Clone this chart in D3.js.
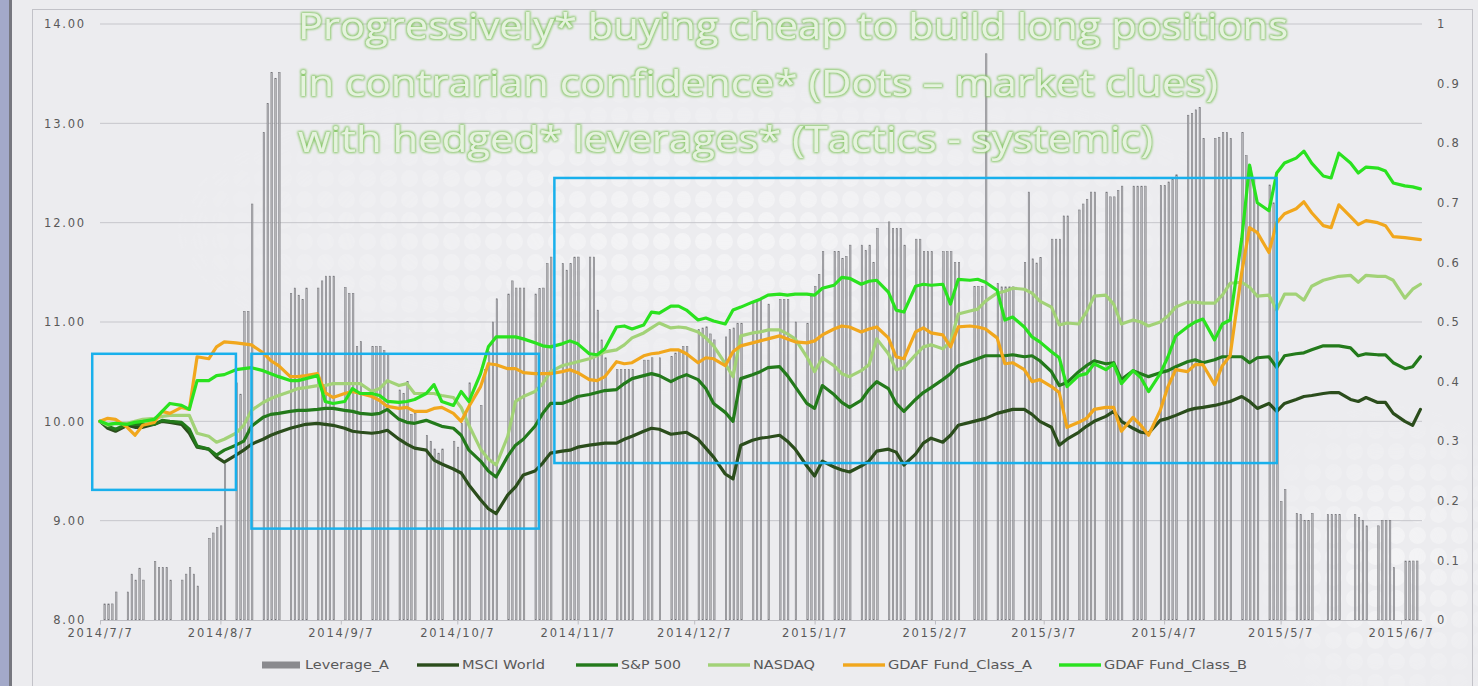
<!DOCTYPE html>
<html>
<head>
<meta charset="utf-8">
<script src="https://cdn.jsdelivr.net/npm/d3@7"></script>
<style>
  body { margin: 0; background: #ececef; }
  svg { display: block; }
</style>
</head>
<body>
<div id="chart-area"></div>
<script>
// ---- data ----
const titleLines = [
  "Progressively* buying cheap to build long positions",
  "in contrarian confidence* (Dots \u2013 market clues)",
  "with hedged* leverages* (Tactics - systemic)"
];
const tickLabels = ["2014/7/7", "2014/8/7", "2014/9/7", "2014/10/7", "2014/11/7", "2014/12/7",
  "2015/1/7", "2015/2/7", "2015/3/7", "2015/4/7", "2015/5/7", "2015/6/7"];
const leftTicks = [8, 9, 10, 11, 12, 13, 14];
const rightTicks = [0, 0.1, 0.2, 0.3, 0.4, 0.5, 0.6, 0.7, 0.8, 0.9, 1];
const seriesNames = ["Leverage_A", "MSCI World", "S&P 500", "NASDAQ", "GDAF Fund_Class_A", "GDAF Fund_Class_B"];

// Leverage_A, one row per week (Mon..Fri), right axis
const leverageA = [
  0, .027, .027, .027, .047,
  .047, .077, .067, .087, .067,
  .098, .088, .088, .088, .067,
  .067, .077, .088, .077, .057,
  .137, .146, .155, .158, .262,
  .398, .379, .518, .518, .698,
  .818, .867, .919, .909, .919,
  .548, .557, .545, .538, .557,
  .557, .569, .577, .577, .577,
  .558, .548, .548, .459, .467,
  .459, .459, .459, .452, .445,
  .386, .380, .400, .345, .347,
  .310, .300, .287, .280, .287,
  .300, .290, .330, .350, .398,
  .360, .420, .450, .500, .539,
  .547, .569, .557, .557, .557,
  .547, .556, .557, .598, .609,
  .598, .587, .598, .609, .609,
  .609, .609, .520, .470, .440,
  .420, .420, .420, .420, .420,
  .436, .436, .440, 0, .440,
  .442, .448, .453, .459, .459,
  .487, .490, .492, .480, .470,
  .475, .487, .490, .498, .498,
  .531, .537, .537, 0, .530,
  .538, .538, .538, 0, .500,
  .498, .543, .560, .580, .618,
  .618, .618, .607, .610, .629,
  .629, .620, .629, .600, .657,
  .668, .657, .657, .657, .629,
  .639, .639, .618, .618, .618,
  .618, .618, .618, .600, .600,
  0, .560, .560, .560, .950,
  .565, .559, .559, .559, .559,
  .600, .718, .606, .599, .608,
  .639, .639, .639, .678, .678,
  .688, .698, .706, .718, .718,
  .718, .710, .710, .721, .728,
  .728, .728, .728, .728, 0,
  .729, .729, .735, .740, .747,
  .847, .850, .856, .860, .808,
  .808, .810, .818, .818, .808,
  .818, .779, .760, .742, .700,
  .730, .700, .450, .199, .219,
  .179, .177, .167, .167, .179,
  0, .177, .177, .177, .177,
  0, .177, .172, .167, .158,
  .158, .167, .167, .167, .088,
  .099, .099, .099, .099, 0
];

// index lines, one row per week (Mon, Wed, Fri), left axis
const msciWorld = [
  10.00, 9.93, 9.90,  9.96, 9.94, 9.94,  9.97, 10.00, 9.99,  9.97, 9.88, 9.74,
  9.72, 9.64, 9.59,  9.66, 9.71, 9.77,  9.82, 9.86, 9.89,  9.93, 9.95, 9.97,
  9.98, 9.97, 9.96,  9.93, 9.90, 9.89,  9.88, 9.89, 9.91,  9.82, 9.77, 9.73,
  9.71, 9.61, 9.57,  9.52, 9.48, 9.36,  9.21, 9.12, 9.07,  9.26, 9.34, 9.46,
  9.50, 9.58, 9.68,  9.70, 9.71, 9.74,  9.76, 9.77, 9.78,  9.78, 9.82, 9.85,
  9.90, 9.93, 9.92,  9.87, 9.88, 9.89,  9.82, 9.73, 9.64,  9.47, 9.42, 9.76,
  9.81, 9.83, 9.84,  9.86, 9.80, 9.72,  9.55, 9.45, 9.60,  9.54, 9.51, 9.49,
  9.55, 9.60, 9.70,  9.72, 9.69, 9.56,  9.67, 9.78, 9.83,  9.79, 9.86, 9.96,
  9.99, 10.01, 10.03,  10.08, 10.10, 10.12,  10.12, 10.07, 10.00,  9.94, 9.76, 9.82,
  9.89, 9.95, 10.00,  10.05, 10.10, 10.00,  9.93, 9.89, 9.88,  10.01, 10.03, 10.06,
  10.11, 10.13, 10.14,  10.16, 10.18, 10.20,  10.25, 10.20, 10.13,  10.18, 10.10, 10.18,
  10.22, 10.25, 10.26,  10.28, 10.29, 10.29,  10.22, 10.20, 10.24,  10.19, 10.19, 10.08,
  10.00, 9.96, 10.12
];
const sp500 = [
  10.00, 9.95, 9.92,  9.97, 9.97, 9.97,  9.97, 10.01, 10.00,  9.99, 9.92, 9.75,
  9.72, 9.66, 9.71,  9.76, 9.80, 9.95,  10.04, 10.07, 10.08,  10.10, 10.11, 10.11,
  10.12, 10.13, 10.13,  10.11, 10.10, 10.08,  10.07, 10.08, 10.12,  10.02, 9.99, 9.98,
  10.01, 9.98, 9.95,  9.93, 9.86, 9.71,  9.60, 9.50, 9.44,  9.65, 9.76, 9.82,
  9.95, 10.08, 10.18,  10.18, 10.21, 10.25,  10.27, 10.29, 10.31,  10.32, 10.38, 10.43,
  10.46, 10.48, 10.46,  10.40, 10.44, 10.47,  10.42, 10.33, 10.18,  10.09, 10.00, 10.43,
  10.47, 10.50, 10.54,  10.55, 10.46, 10.35,  10.18, 10.13, 10.36,  10.27, 10.19, 10.14,
  10.21, 10.32, 10.40,  10.33, 10.18, 10.10,  10.22, 10.29, 10.34,  10.42, 10.48, 10.56,
  10.60, 10.63, 10.66,  10.66, 10.66, 10.67,  10.65, 10.66, 10.61,  10.50, 10.36, 10.39,
  10.50, 10.56, 10.61,  10.58, 10.59, 10.42,  10.51, 10.48, 10.45,  10.49, 10.51, 10.55,
  10.60, 10.62, 10.59,  10.62, 10.65, 10.65,  10.65, 10.59, 10.64,  10.65, 10.54, 10.66,
  10.68, 10.69, 10.72,  10.76, 10.76, 10.76,  10.74, 10.66, 10.68,  10.67, 10.67, 10.59,
  10.53, 10.55, 10.65
];
const nasdaq = [
  10.00, 9.96, 9.98,  9.98, 10.00, 10.02,  10.03, 10.05, 10.06,  10.06, 10.06, 9.88,
  9.85, 9.79, 9.82,  9.88, 9.96, 10.11,  10.19, 10.23, 10.26,  10.30, 10.33, 10.34,
  10.36, 10.36, 10.38,  10.38, 10.38, 10.38,  10.30, 10.33, 10.41,  10.36, 10.38, 10.28,
  10.28, 10.28, 10.26,  10.24, 10.14, 9.96,  9.72, 9.62, 9.56,  9.85, 10.20, 10.25,
  10.30, 10.38, 10.50,  10.56, 10.58, 10.60,  10.63, 10.66, 10.70,  10.72, 10.77, 10.84,
  10.89, 10.94, 10.99,  10.94, 10.95, 10.94,  10.90, 10.84, 10.76,  10.58, 10.45, 10.86,
  10.89, 10.90, 10.92,  10.92, 10.88, 10.83,  10.65, 10.50, 10.64,  10.56, 10.48, 10.45,
  10.51, 10.57, 10.83,  10.68, 10.52, 10.54,  10.67, 10.75, 10.77,  10.73, 10.80, 11.08,
  11.11, 11.13, 11.21,  11.29, 11.31, 11.34,  11.33, 11.29, 11.21,  11.15, 10.97, 10.99,
  10.98, 11.10, 11.26,  11.27, 11.18, 10.98,  11.02, 11.00, 10.96,  11.00, 11.06, 11.15,
  11.20, 11.20, 11.19,  11.19, 11.27, 11.39,  11.40, 11.35, 11.26,  11.27, 11.12, 11.28,
  11.28, 11.22, 11.36,  11.42, 11.44, 11.46,  11.47, 11.40, 11.47,  11.46, 11.46, 11.42,
  11.24, 11.33, 11.38
];
const gdafA = [
  10.00, 10.03, 10.02,  9.94, 9.86, 9.96,  9.99, 10.10, 10.08,  10.14, 10.12, 10.65,
  10.63, 10.75, 10.80,  10.79, 10.78, 10.77,  10.69, 10.61, 10.56,  10.45, 10.45, 10.46,
  10.48, 10.29, 10.24,  10.28, 10.30, 10.28,  10.25, 10.21, 10.15,  10.13, 10.14, 10.10,
  10.10, 10.13, 10.14,  10.08, 10.00, 10.15,  10.35, 10.58, 10.57,  10.53, 10.53, 10.49,
  10.48, 10.48, 10.48,  10.50, 10.52, 10.49,  10.42, 10.41, 10.45,  10.60, 10.58, 10.59,
  10.66, 10.68, 10.69,  10.72, 10.72, 10.68,  10.59, 10.64, 10.63,  10.56, 10.70, 10.76,
  10.79, 10.81, 10.83,  10.86, 10.83, 10.80,  10.79, 10.81, 10.87,  10.93, 10.96, 10.95,
  10.90, 10.93, 10.95,  10.84, 10.65, 10.63,  10.90, 10.94, 10.89,  10.87, 10.75, 10.95,
  10.96, 10.95, 10.93,  10.84, 10.58, 10.59,  10.52, 10.40, 10.42,  10.35, 10.29, 9.94,
  9.99, 10.03, 10.12,  10.14, 10.14, 9.90,  10.04, 9.96, 9.86,  10.11, 10.35, 10.52,
  10.50, 10.57, 10.57,  10.37, 10.56, 10.66,  11.50, 11.95, 11.90,  11.70, 12.00, 12.09,
  12.14, 12.21, 12.10,  11.97, 11.95, 12.18,  12.06, 11.98, 12.02,  12.00, 11.97, 11.86,
  11.85, 11.84, 11.83
];
const gdafB = [
  10.00, 9.97, 9.98,  9.97, 9.99, 10.00,  10.02, 10.10, 10.18,  10.16, 10.12, 10.41,
  10.41, 10.46, 10.47,  10.52, 10.53, 10.54,  10.51, 10.48, 10.45,  10.41, 10.41, 10.43,
  10.46, 10.20, 10.18,  10.20, 10.33, 10.28,  10.28, 10.26, 10.20,  10.19, 10.20, 10.22,
  10.28, 10.37, 10.20,  10.16, 10.30, 10.20,  10.48, 10.75, 10.85,  10.85, 10.85, 10.83,
  10.79, 10.76, 10.75,  10.78, 10.81, 10.78,  10.68, 10.67, 10.73,  10.95, 10.96, 10.93,
  10.97, 11.10, 11.09,  11.16, 11.16, 11.12,  11.02, 11.04, 11.01,  10.98, 11.12, 11.15,
  11.20, 11.23, 11.27,  11.28, 11.27, 11.28,  11.28, 11.27, 11.34,  11.37, 11.45, 11.44,
  11.38, 11.41, 11.42,  11.30, 11.12, 11.10,  11.36, 11.38, 11.37,  11.38, 11.18, 11.43,
  11.42, 11.43, 11.40,  11.32, 11.02, 11.05,  10.95, 10.85, 10.80,  10.70, 10.64, 10.35,
  10.46, 10.48, 10.58,  10.52, 10.58, 10.38,  10.51, 10.44, 10.30,  10.48, 10.65, 10.86,
  10.95, 11.00, 11.03,  10.82, 10.98, 11.02,  11.84, 12.58, 12.20,  12.12, 12.50, 12.60,
  12.65, 12.72, 12.60,  12.47, 12.45, 12.70,  12.60, 12.50, 12.56,  12.55, 12.52, 12.40,
  12.37, 12.36, 12.34
];

// highlight boxes: [start date, end date, top value, bottom value]
const boxes = [
  ["2014/7/5", "2014/8/11", 10.68, 9.31],
  ["2014/8/15", "2014/10/28", 10.68, 8.92],
  ["2014/11/1", "2015/5/6", 12.45, 9.58]
];

// ---- layout ----
const width = 1478, height = 686;
const plot = { left: 100, right: 1422, top: 24, bottom: 620 };
const colors = ["#9a9a9a", "#2b4d1c", "#237a1b", "#a2d277", "#f1a71d", "#2ae21f"];
const legendX = [262, 417, 576, 708, 843, 1059];
const legendTextW = [84, 83, 60, 62, 144, 143];
const axisFont = "DejaVu Sans, Verdana, sans-serif";

const parseDay = s => { const p = s.split("/").map(Number); return new Date(p[0], p[1] - 1, p[2]); };

const mondays = d3.timeMonday.range(new Date(2014, 6, 7), new Date(2015, 5, 13));
const barDates = mondays.flatMap(m => [0, 1, 2, 3, 4].map(k => d3.timeDay.offset(m, k)));
const lineDates = mondays.flatMap(m => [0, 2, 4].map(k => d3.timeDay.offset(m, k)));

const x = d3.scaleTime()
    .domain([parseDay(tickLabels[0]), parseDay(tickLabels[tickLabels.length - 1])])
    .range([100, 1401]);
const yL = d3.scaleLinear().domain([8, 14]).range([plot.bottom, plot.top]);
const yR = d3.scaleLinear().domain([0, 1]).range([plot.bottom, plot.top]);

const svg = d3.select("#chart-area").append("svg")
    .attr("width", width)
    .attr("height", height);
const defs = svg.append("defs");

// background
svg.append("rect").attr("width", width).attr("height", height).attr("fill", "#ececef");

let pat = defs.append("pattern")
    .attr("id", "dots").attr("patternUnits", "userSpaceOnUse")
    .attr("width", 21).attr("height", 21);
pat.append("circle").attr("cx", 10.5).attr("cy", 10.5).attr("r", 8.5).attr("fill", "#fff");

let grad = defs.append("radialGradient").attr("id", "fade");
grad.append("stop").attr("offset", "0%").attr("stop-color", "#fff").attr("stop-opacity", 0.8);
grad.append("stop").attr("offset", "100%").attr("stop-color", "#fff").attr("stop-opacity", 0);
let mask = defs.append("mask").attr("id", "dotmask");
mask.append("ellipse").attr("cx", 720).attr("cy", 230).attr("rx", 560).attr("ry", 170).attr("fill", "url(#fade)");
mask.append("ellipse").attr("cx", 1390).attr("cy", 560).attr("rx", 150).attr("ry", 160).attr("fill", "url(#fade)");
svg.append("rect").attr("width", width).attr("height", height)
    .attr("fill", "url(#dots)").attr("opacity", 0.55).attr("mask", "url(#dotmask)");

// left strip and frame
svg.append("rect").attr("x", 0).attr("y", 0).attr("width", 9).attr("height", height).attr("fill", "#a3a9c9");
svg.append("rect").attr("x", 9).attr("y", 0).attr("width", 3).attr("height", height).attr("fill", "#76777f");
svg.append("rect")
    .attr("x", 32.5).attr("y", 9.5).attr("width", 1440).attr("height", 700)
    .attr("fill", "none").attr("stroke", "#c2c2c8");

// gridlines
svg.append("g").selectAll("line")
    .data(leftTicks.filter(d => d > 8))
    .enter().append("line")
        .attr("x1", plot.left).attr("x2", plot.right)
        .attr("y1", d => yL(d)).attr("y2", d => yL(d))
        .attr("stroke", "#c6c6cb").attr("stroke-width", 1);

// bars
svg.append("g").selectAll("rect")
    .data(leverageA.map((v, i) => ({ date: barDates[i], v: v })).filter(d => d.v > 0))
    .enter().append("rect")
        .attr("x", d => x(d.date))
        .attr("y", d => yR(d.v))
        .attr("width", 1.5)
        .attr("height", d => plot.bottom - yR(d.v))
        .attr("fill", "#b6b6b9")
        .attr("stroke", "#737378")
        .attr("stroke-width", 0.5);

// x axis
let xAxis = svg.append("g")
    .attr("transform", `translate(0, ${plot.bottom + 0.5})`)
    .call(d3.axisBottom(x)
        .tickValues(tickLabels.map(parseDay))
        .tickFormat((d, i) => tickLabels[i])
        .tickSize(4).tickSizeOuter(0).tickPadding(4));
xAxis.select(".domain").attr("d", `M${plot.left},0H${plot.right}`).attr("stroke", "#bdbdc2");
xAxis.selectAll(".tick line").attr("stroke", "#bdbdc2");
xAxis.selectAll("text")
    .attr("fill", "#595959").attr("font-family", axisFont)
    .attr("font-size", "11.5px").attr("letter-spacing", "1.8px");

// left axis
let yAxisL = svg.append("g")
    .attr("transform", `translate(${plot.left}, 0)`)
    .call(d3.axisLeft(yL).tickValues(leftTicks).tickFormat(d3.format(".2f")).tickSize(0).tickPadding(14));
yAxisL.select(".domain").remove();
yAxisL.selectAll("text")
    .attr("fill", "#595959").attr("font-family", axisFont)
    .attr("font-size", "11.5px").attr("letter-spacing", "1.8px");

// right axis
let yAxisR = svg.append("g")
    .attr("transform", `translate(${plot.right}, 0)`)
    .call(d3.axisRight(yR).tickValues(rightTicks).tickFormat(d3.format("~g")).tickSize(0).tickPadding(15));
yAxisR.select(".domain").remove();
yAxisR.selectAll("text")
    .attr("fill", "#595959").attr("font-family", axisFont)
    .attr("font-size", "11.5px").attr("letter-spacing", "1.8px");

// lines
const lineSeries = [msciWorld, sp500, nasdaq, gdafA, gdafB];
const line = d3.line()
    .x(d => x(d.date))
    .y(d => yL(d.v));
svg.append("g").selectAll("path")
    .data(lineSeries.map(s => s.map((v, i) => ({ date: lineDates[i], v: v }))))
    .enter().append("path")
        .attr("d", line)
        .attr("fill", "none")
        .attr("stroke", (d, i) => colors[i + 1])
        .attr("stroke-width", 3.2)
        .attr("stroke-linejoin", "round")
        .attr("stroke-linecap", "round");

// highlight boxes
svg.append("g").selectAll("rect")
    .data(boxes)
    .enter().append("rect")
        .attr("x", d => x(parseDay(d[0])))
        .attr("y", d => yL(d[2]))
        .attr("width", d => x(parseDay(d[1])) - x(parseDay(d[0])))
        .attr("height", d => yL(d[3]) - yL(d[2]))
        .attr("fill", "none")
        .attr("stroke", "#19b0ec")
        .attr("stroke-width", 2.5);

// title with soft green glow
let glow = defs.append("filter").attr("id", "glow")
    .attr("x", "-5%").attr("y", "-30%").attr("width", "110%").attr("height", "160%");
glow.append("feMorphology").attr("in", "SourceAlpha").attr("operator", "dilate").attr("radius", 1.2).attr("result", "fat");
glow.append("feGaussianBlur").attr("in", "fat").attr("stdDeviation", 1.3).attr("result", "blur");
glow.append("feFlood").attr("flood-color", "#86c764").attr("flood-opacity", 0.95);
glow.append("feComposite").attr("in2", "blur").attr("operator", "in").attr("result", "halo");
let merge = glow.append("feMerge");
merge.append("feMergeNode").attr("in", "halo");
merge.append("feMergeNode").attr("in", "SourceGraphic");

const titleBase = [39, 96, 152];
const titleW = [990, 920, 855];
svg.append("g").selectAll("text")
    .data(titleLines)
    .enter().append("text")
        .attr("x", 298)
        .attr("y", (d, i) => titleBase[i])
        .attr("textLength", (d, i) => titleW[i])
        .attr("lengthAdjust", "spacingAndGlyphs")
        .attr("font-family", "Open Sans, Lato, sans-serif")
        .attr("font-size", "36px")
        .attr("fill", "#e6f3de")
        .attr("filter", "url(#glow)")
        .text(d => d);

// legend
let legend = svg.append("g").attr("transform", "translate(0, 665)");
let items = legend.selectAll("g")
    .data(seriesNames)
    .enter().append("g")
        .attr("transform", (d, i) => `translate(${legendX[i]}, 0)`);
items.append("rect")
    .attr("x", 0)
    .attr("y", (d, i) => i === 0 ? -3.5 : -1.7)
    .attr("width", (d, i) => i === 0 ? 38 : 42)
    .attr("height", (d, i) => i === 0 ? 7 : 3.4)
    .attr("fill", (d, i) => i === 0 ? "#8a8a8e" : colors[i]);
items.append("text")
    .attr("x", (d, i) => i === 0 ? 43 : 45)
    .attr("dy", "0.35em")
    .attr("textLength", (d, i) => legendTextW[i])
    .attr("lengthAdjust", "spacingAndGlyphs")
    .attr("font-family", axisFont)
    .attr("font-size", "11.5px")
    .attr("fill", "#595959")
    .text(d => d);
</script>
</body>
</html>
